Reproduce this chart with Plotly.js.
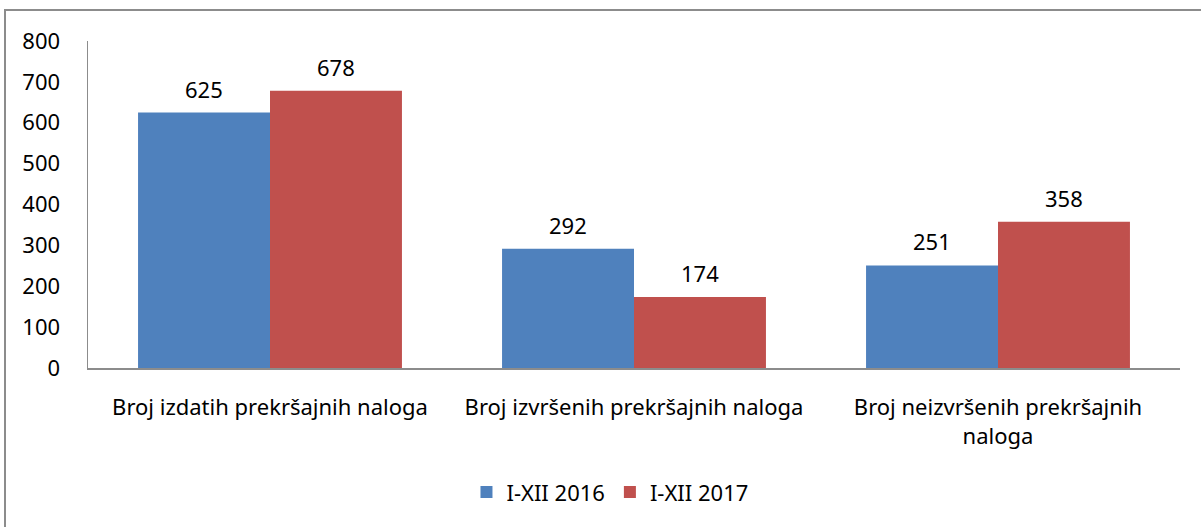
<!DOCTYPE html>
<html><head><meta charset="utf-8">
<script src="https://cdn.plot.ly/plotly-3.0.1.min.js"></script>
<style>
html,body{margin:0;padding:0;background:#fff;overflow:hidden;}
#wrap{position:relative;width:1201px;height:527px;}
#chart{width:1201px;height:527px;}
#frame{position:absolute;left:4px;top:9px;width:1400px;height:700px;border:2px solid #8c8c8c;pointer-events:none;}
</style></head>
<body><div id="wrap"><div id="chart"></div><div id="frame"></div></div>
<script>
const categories = ["Broj izdatih prekršajnih naloga", "Broj izvršenih prekršajnih naloga", "Broj neizvršenih prekršajnih<br>naloga"];
const seriesNames = ["I-XII 2016", "I-XII 2017"];
const values2016 = [625, 292, 251];
const values2017 = [678, 174, 358];
const colors = ["#4F81BD", "#C0504D"];
const font = {family: "'Noto Sans', 'Open Sans', sans-serif", size: 22, color: "#000"};

const series = [values2016, values2017];
const traces = series.map((v, i) => ({
  type: "bar", x: categories, y: v, name: seriesNames[i],
  marker: {color: colors[i]}, hoverinfo: "none"
}));

const annotations = [];
series.forEach((v, i) => {
  v.forEach((val, j) => {
    annotations.push({x: categories[j], y: val, xref: "x", yref: "y", text: String(val),
      showarrow: false, xshift: (i === 0 ? -66 : 66), yshift: 24, font: font});
  });
});

const layout = {
  width: 1201, height: 527,
  margin: {l: 88, r: 21, t: 41, b: 159},
  paper_bgcolor: "#fff", plot_bgcolor: "#fff",
  barmode: "group", bargap: 0.275, bargroupgap: 0,
  font: font,
  annotations: annotations,
  xaxis: {showline: true, linecolor: "#8c8c8c", linewidth: 1.5, ticks: "", showgrid: false, tickfont: font, tickangle: 0, ticklabelstandoff: 19, automargin: false},
  yaxis: {range: [0, 800], dtick: 100, showline: true, linecolor: "#8c8c8c", linewidth: 1.5, ticks: "", showgrid: false, zeroline: false, tickfont: font, ticklabelstandoff: 22, automargin: false},
  showlegend: true,
  legend: {orientation: "h", x: 0.478, xanchor: "center", y: -0.38, yanchor: "middle", font: font, itemwidth: 30, tracegroupgap: 0},
};
Plotly.newPlot("chart", traces, layout, {displayModeBar: false, staticPlot: true});
</script></body></html>
